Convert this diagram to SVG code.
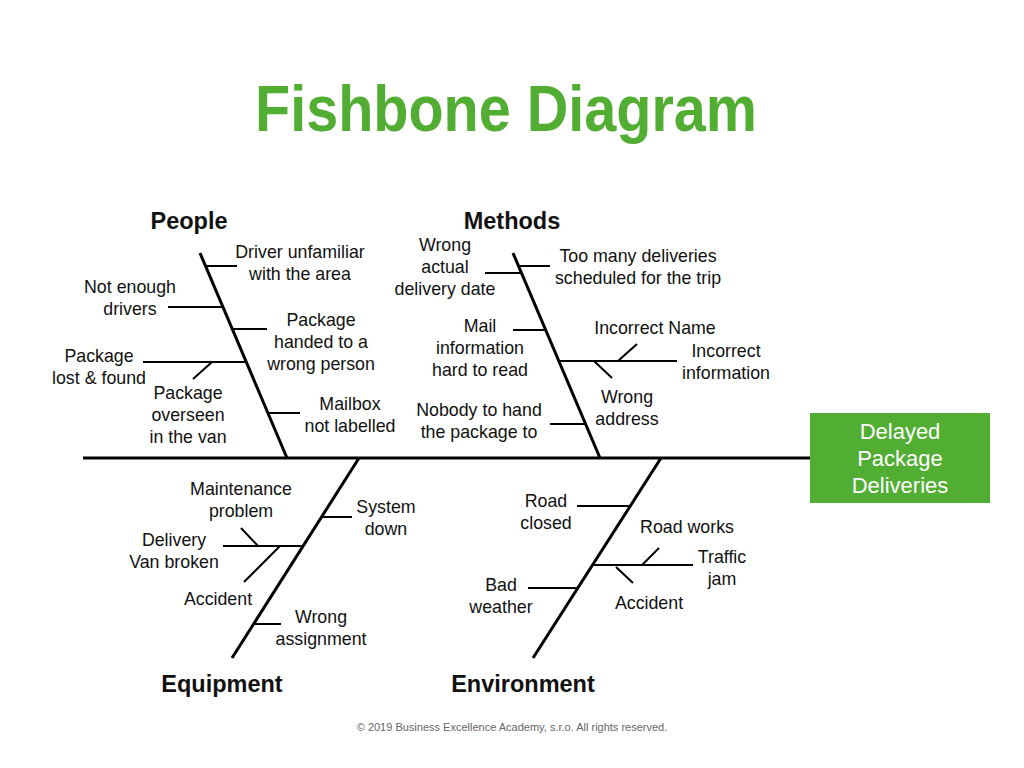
<svg xmlns="http://www.w3.org/2000/svg" width="1024" height="768" viewBox="0 0 1024 768">
<style>
text{font-family:"Liberation Sans",Arial,sans-serif;text-anchor:middle;fill:#111}
.l{font-size:17.8px}
.h{font-size:23.5px;font-weight:bold}
.t{font-size:64px;font-weight:bold;fill:#52ae32}
.b{font-size:22px;fill:#fff}
.f{font-size:11px;fill:#666}
.bone{stroke:#000;stroke-width:3;fill:none}
.sub{stroke:#000;stroke-width:2;fill:none}
</style>
<rect width="1024" height="768" fill="#fff"/>
<text class="t" x="506" y="131" textLength="502" lengthAdjust="spacingAndGlyphs">Fishbone Diagram</text>
<g id="connectors">
<line class="bone" x1="83" y1="458" x2="810" y2="458"/>
<line class="bone" x1="200" y1="253" x2="287" y2="458"/>
<line class="bone" x1="513" y1="253" x2="600" y2="458"/>
<line class="bone" x1="359" y1="458" x2="232" y2="658"/>
<line class="bone" x1="661" y1="458" x2="533" y2="658"/>
<line class="sub" x1="206" y1="266" x2="237" y2="266"/>
<line class="sub" x1="168" y1="307" x2="223" y2="307"/>
<line class="sub" x1="232" y1="329" x2="267" y2="329"/>
<line class="sub" x1="143" y1="362" x2="246" y2="362"/>
<line class="sub" x1="193" y1="379" x2="212" y2="362"/>
<line class="sub" x1="268" y1="413" x2="300" y2="413"/>
<line class="sub" x1="519" y1="266" x2="550" y2="266"/>
<line class="sub" x1="485" y1="273" x2="522" y2="273"/>
<line class="sub" x1="513" y1="330" x2="546" y2="330"/>
<line class="sub" x1="558" y1="361" x2="677" y2="361"/>
<line class="sub" x1="618" y1="361" x2="637" y2="344"/>
<line class="sub" x1="594" y1="361" x2="612" y2="378"/>
<line class="sub" x1="550" y1="424" x2="585" y2="424"/>
<line class="sub" x1="322" y1="517" x2="352" y2="517"/>
<line class="sub" x1="223" y1="546" x2="303" y2="546"/>
<line class="sub" x1="241" y1="528" x2="258" y2="546"/>
<line class="sub" x1="280" y1="546" x2="244" y2="582"/>
<line class="sub" x1="254" y1="624" x2="281" y2="624"/>
<line class="sub" x1="577" y1="506" x2="630" y2="506"/>
<line class="sub" x1="593" y1="565" x2="693" y2="565"/>
<line class="sub" x1="642" y1="565" x2="659" y2="548"/>
<line class="sub" x1="616" y1="567" x2="633" y2="583"/>
<line class="sub" x1="528" y1="588" x2="578" y2="588"/>
</g>
<g id="effect">
<rect x="810" y="413" width="180" height="90" fill="#52ae32"/>
<text class="b" x="900" y="439">Delayed</text>
<text class="b" x="900" y="466">Package</text>
<text class="b" x="900" y="493">Deliveries</text>
</g>
<g id="people">
<text class="h" x="189" y="229">People</text>
<text class="l" x="300" y="258">Driver unfamiliar</text>
<text class="l" x="300" y="280">with the area</text>
<text class="l" x="130" y="293">Not enough</text>
<text class="l" x="130" y="315">drivers</text>
<text class="l" x="321" y="326">Package</text>
<text class="l" x="321" y="348">handed to a</text>
<text class="l" x="321" y="370">wrong person</text>
<text class="l" x="99" y="362">Package</text>
<text class="l" x="99" y="384">lost &amp; found</text>
<text class="l" x="188" y="399">Package</text>
<text class="l" x="188" y="421">overseen</text>
<text class="l" x="188" y="443">in the van</text>
<text class="l" x="350" y="410">Mailbox</text>
<text class="l" x="350" y="432">not labelled</text>
</g>
<g id="methods">
<text class="h" x="512" y="229">Methods</text>
<text class="l" x="445" y="251">Wrong</text>
<text class="l" x="445" y="273">actual</text>
<text class="l" x="445" y="295">delivery date</text>
<text class="l" x="638" y="262">Too many deliveries</text>
<text class="l" x="638" y="284">scheduled for the trip</text>
<text class="l" x="480" y="332">Mail</text>
<text class="l" x="480" y="354">information</text>
<text class="l" x="480" y="376">hard to read</text>
<text class="l" x="655" y="334">Incorrect Name</text>
<text class="l" x="726" y="357">Incorrect</text>
<text class="l" x="726" y="379">information</text>
<text class="l" x="627" y="403">Wrong</text>
<text class="l" x="627" y="425">address</text>
<text class="l" x="479" y="416">Nobody to hand</text>
<text class="l" x="479" y="438">the package to</text>
</g>
<g id="equipment">
<text class="h" x="222" y="692">Equipment</text>
<text class="l" x="241" y="495">Maintenance</text>
<text class="l" x="241" y="517">problem</text>
<text class="l" x="386" y="513">System</text>
<text class="l" x="386" y="535">down</text>
<text class="l" x="174" y="546">Delivery</text>
<text class="l" x="174" y="568">Van broken</text>
<text class="l" x="218" y="605">Accident</text>
<text class="l" x="321" y="623">Wrong</text>
<text class="l" x="321" y="645">assignment</text>
</g>
<g id="environment">
<text class="h" x="523" y="692">Environment</text>
<text class="l" x="546" y="507">Road</text>
<text class="l" x="546" y="529">closed</text>
<text class="l" x="687" y="533">Road works</text>
<text class="l" x="722" y="563">Traffic</text>
<text class="l" x="722" y="585">jam</text>
<text class="l" x="501" y="591">Bad</text>
<text class="l" x="501" y="613">weather</text>
<text class="l" x="649" y="609">Accident</text>
</g>
<text class="f" x="512" y="731">© 2019 Business Excellence Academy, s.r.o. All rights reserved.</text>
</svg>
